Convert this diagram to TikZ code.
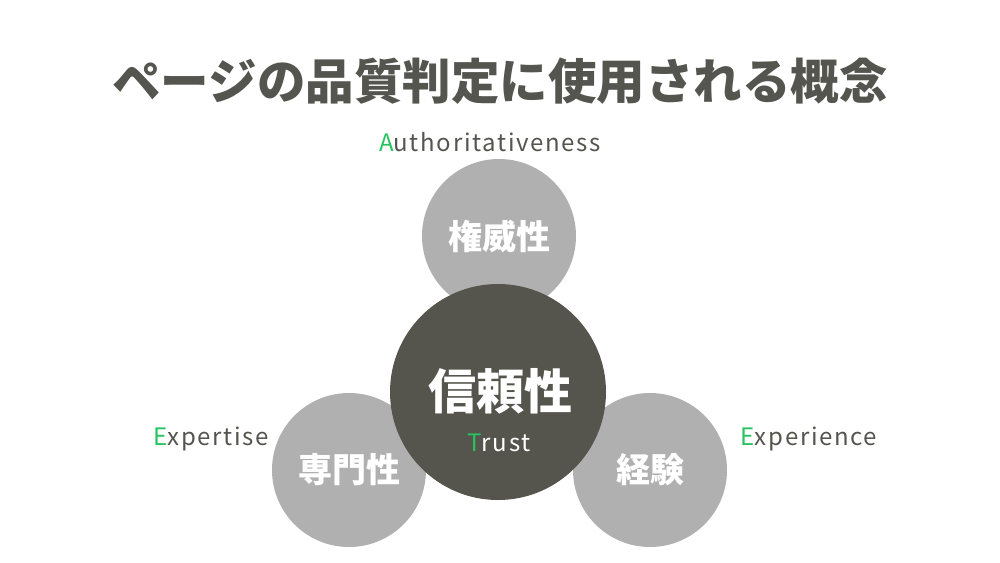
\documentclass[tikz,border=0pt]{standalone}
\usepackage{fontspec}
\setmainfont{Noto Sans CJK JP}
\newfontfamily\jp{Noto Sans CJK JP}
\newfontfamily\jplat[LetterSpace=7]{Noto Sans CJK JP}
\definecolor{titlegray}{RGB}{85,85,80}
\definecolor{lightgray}{RGB}{176,176,176}
\definecolor{darkcirc}{RGB}{85,85,77}
\definecolor{accent}{RGB}{38,196,96}
\tikzset{
  graycirc/.style={circle,fill=lightgray,draw=none,minimum size=154pt,inner sep=0pt},
  darkcircle/.style={circle,fill=darkcirc,draw=none,minimum size=216pt,inner sep=0pt},
  circlabel/.style={text=white,font=\jp\bfseries\fontsize{34}{34}\selectfont},
  biglabel/.style={text=white,font=\jp\bfseries\fontsize{48}{48}\selectfont},
  engl/.style={text=titlegray,font=\jplat\fontsize{24}{24}\selectfont},
}
\newcommand{\gr}[1]{\textcolor{accent}{#1}}
\begin{document}
\begin{tikzpicture}[x=1pt,y=-1pt]
\useasboundingbox[fill=white] (0,0) rectangle (1000,562);
\node[text=titlegray,font=\jp\bfseries\fontsize{48.5}{48.5}\selectfont] (title) at (500,81) {ページの品質判定に使用される概念};
\node[graycirc] (auth) at (499,236) {};
\node[graycirc] (expt) at (349,470) {};
\node[graycirc] (expr) at (650,470) {};
\node[darkcircle] (trust) at (498,392) {};
\node[circlabel] (authl) at (auth.center) {権威性};
\node[circlabel] (exptl) at (expt.center) {専門性};
\node[circlabel] (exprl) at (expr.center) {経験};
\node[biglabel] (trustl) at (500,391) {信頼性};
\node[engl,text=white] (trusten) at (499,443) {\gr{T}rust};
\node[engl] (authen) at (490,142) {\gr{A}uthoritativeness};
\node[engl] (expten) at (211,439) {\gr{E}xpertise};
\node[engl] (expren) at (809,439) {\gr{E}xperience};
\end{tikzpicture}
\end{document}
